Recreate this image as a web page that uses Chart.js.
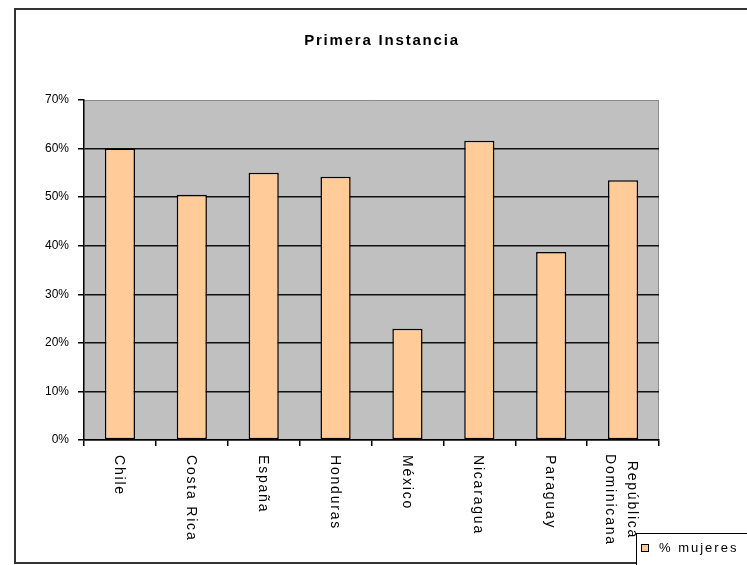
<!DOCTYPE html>
<html>
<head>
<meta charset="utf-8">
<script src="https://cdn.jsdelivr.net/npm/chart.js@4"></script>
<style>
  html, body { margin: 0; padding: 0; background: #ffffff; }
  #wrap { width: 747px; height: 565px; position: relative; }
</style>
</head>
<body>
<div id="wrap"><canvas id="c" width="747" height="565"></canvas></div>
<script>
const chartTitle = 'Primera Instancia';
const categories = ['Chile', 'Costa Rica', 'España', 'Honduras', 'México', 'Nicaragua', 'Paraguay', ['República', 'Dominicana']];
const seriesName = '% mujeres';
const womenPct = [60.0, 50.5, 55.0, 54.2, 22.9, 61.6, 38.7, 53.5];
const yTicks = [0, 10, 20, 30, 40, 50, 60, 70];

const FONT = "'Liberation Sans', Arial, sans-serif";

const decor = {
  id: 'decor',
  beforeDraw(chart) {
    const ctx = chart.ctx, a = chart.chartArea;
    ctx.save();
    ctx.fillStyle = '#ffffff';
    ctx.fillRect(0, 0, chart.width, chart.height);
    ctx.fillStyle = '#C0C0C0';
    ctx.fillRect(a.left, a.top, a.right - a.left, a.bottom - a.top);
    ctx.strokeStyle = '#8a8a8a';
    ctx.lineWidth = 1;
    ctx.beginPath();
    ctx.moveTo(a.left, a.top + 0.5);
    ctx.lineTo(a.right - 0.5, a.top + 0.5);
    ctx.lineTo(a.right - 0.5, a.bottom);
    ctx.stroke();
    ctx.restore();
  },
  afterDraw(chart) {
    const ctx = chart.ctx;
    const xs = chart.scales.x;
    ctx.save();
    // outer frame
    ctx.strokeStyle = '#333333';
    ctx.lineWidth = 2;
    ctx.strokeRect(15, 9, 800, 554);
    // title
    ctx.fillStyle = '#000';
    ctx.font = 'bold 15px ' + FONT;
    ctx.letterSpacing = '1.8px';
    ctx.textBaseline = 'middle';
    ctx.textAlign = 'left';
    const tw = ctx.measureText(chartTitle).width;
    ctx.fillText(chartTitle, 382 - tw / 2, 41);
    // x labels rotated
    ctx.font = '14px ' + FONT;
    ctx.letterSpacing = '1.8px';
    categories.forEach((lab, i) => {
      const x = xs.getPixelForValue(i);
      if (Array.isArray(lab)) {
        const offs = [-9, 13];
        const widths = lab.map(l => ctx.measureText(l).width);
        const maxW = Math.max(...widths);
        lab.forEach((l, j) => {
          ctx.save();
          ctx.translate(x, 454 + maxW / 2);
          ctx.rotate(Math.PI / 2);
          ctx.textAlign = 'center';
          ctx.fillText(l, 0, offs[j]);
          ctx.restore();
        });
      } else {
        ctx.save();
        ctx.translate(x - 1, 455);
        ctx.rotate(Math.PI / 2);
        ctx.textAlign = 'left';
        ctx.fillText(lab, 0, 0);
        ctx.restore();
      }
    });
    // legend
    ctx.letterSpacing = '0px';
    ctx.fillStyle = '#ffffff';
    ctx.fillRect(637, 534, 200, 40);
    ctx.strokeStyle = '#000';
    ctx.lineWidth = 1;
    ctx.strokeRect(636.5, 533.5, 200, 40);
    ctx.fillStyle = '#FFCC99';
    ctx.fillRect(641.5, 544.5, 7, 7);
    ctx.strokeRect(641.5, 544.5, 7, 7);
    ctx.fillStyle = '#000';
    ctx.font = '13px ' + FONT;
    ctx.letterSpacing = '2px';
    ctx.textAlign = 'left';
    ctx.textBaseline = 'middle';
    ctx.fillText(seriesName, 659, 548.5);
    ctx.restore();
  }
};

new Chart(document.getElementById('c'), {
  type: 'bar',
  data: {
    labels: categories,
    datasets: [{
      label: seriesName,
      data: womenPct,
      backgroundColor: '#FFCC99',
      borderColor: '#000000',
      borderWidth: 1.5,
      borderSkipped: false,
      barPercentage: 0.42,
      categoryPercentage: 1.0
    }]
  },
  options: {
    responsive: false,
    animation: false,
    devicePixelRatio: 1,
    layout: { padding: { left: 34, right: 88, top: 100, bottom: 0 } },
    plugins: {
      legend: { display: false },
      title: { display: false },
      tooltip: { enabled: false }
    },
    scales: {
      x: {
        offset: true,
        grid: {
          display: true,
          drawOnChartArea: false,
          drawTicks: true,
          tickLength: 6,
          color: '#000000',
          offset: true,
          lineWidth: 1.5
        },
        border: { display: true, color: '#000000', width: 1.5 },
        ticks: { display: false },
        afterFit(s) { s.height = 125; }
      },
      y: {
        min: 0,
        max: 70,
        afterBuildTicks(s) { s.ticks = yTicks.map(v => ({ value: v })); },
        ticks: {
          callback: v => v + '%',
          color: '#000000',
          font: { family: FONT, size: 12 },
          padding: 9
        },
        grid: {
          color: ctx => (ctx.tick && ctx.tick.value === 70) ? 'rgba(0,0,0,0)' : '#111111',
          tickColor: '#000000',
          tickLength: 6,
          lineWidth: 1.5
        },
        border: { display: true, color: '#000000', width: 1.5 },
        afterFit(s) { s.width = 50; }
      }
    }
  },
  plugins: [decor]
});
</script>
</body>
</html>
